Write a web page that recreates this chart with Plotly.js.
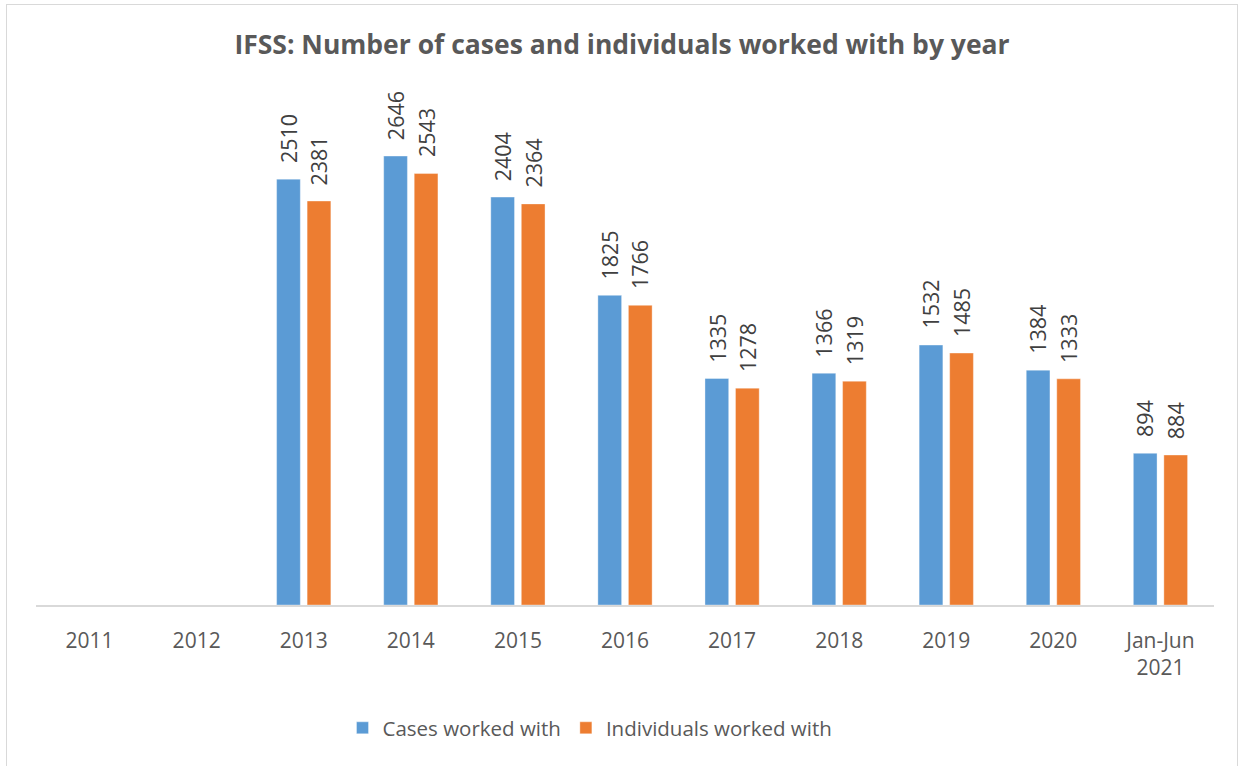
<!DOCTYPE html>
<html>
<head>
<meta charset="utf-8">
<script src="https://cdn.plot.ly/plotly-3.0.1.min.js"></script>
<style>
  html, body { margin: 0; padding: 0; background: #ffffff; overflow: hidden; }
  #frame { position: absolute; left: 6px; top: 4px; width: 1232px; height: 800px; border: 1.5px solid #d9d9d9; box-sizing: border-box; pointer-events: none; z-index: 5; }
  #chart { position: absolute; left: 0; top: 0; width: 1244px; height: 766px; }
</style>
</head>
<body>
<div id="chart"></div>
<div id="frame"></div>
<script>
const categories = ["2011", "2012", "2013", "2014", "2015", "2016", "2017", "2018", "2019", "2020", "Jan-Jun<br>2021"];
const casesWorkedWith = [null, null, 2510, 2646, 2404, 1825, 1335, 1366, 1532, 1384, 894];
const individualsWorkedWith = [null, null, 2381, 2543, 2364, 1766, 1278, 1319, 1485, 1333, 884];
const seriesNames = ["Cases worked with", "Individuals worked with"];

const colors = ["#5B9BD5", "#ED7D31"];
const seriesValues = [casesWorkedWith, individualsWorkedWith];

const traces = seriesValues.map((vals, i) => ({
  type: "bar",
  name: seriesNames[i],
  x: categories,
  y: vals,
  marker: { color: colors[i], line: { color: "rgba(255,255,255,0.6)", width: 0.6 } },
  hoverinfo: "x+y+name"
}));

const annotations = [];
const shifts = [-15.25, 15.25];
seriesValues.forEach((vals, i) => {
  vals.forEach((v, j) => {
    if (v === null) return;
    annotations.push({
      x: j, y: v, xref: "x", yref: "y",
      text: String(v), showarrow: false, textangle: -90,
      xanchor: "center", yanchor: "bottom",
      xshift: shifts[i], yshift: 14,
      font: { family: "Open Sans, sans-serif", size: 21.5, color: "#404040" }
    });
  });
});

const layout = {
  width: 1244, height: 766,
  margin: { l: 36, r: 30, t: 96, b: 161 },
  paper_bgcolor: "rgba(0,0,0,0)",
  plot_bgcolor: "rgba(0,0,0,0)",
  title: {
    text: "<b>IFSS: Number of cases and individuals worked with by year</b>",
    font: { family: "Open Sans, sans-serif", size: 26.5, color: "#595959" },
    x: 0.5, xanchor: "center", y: 1 - 45 / 766, yanchor: "middle"
  },
  barmode: "group",
  bargap: 0.43,
  bargroupgap: 0.223,
  xaxis: {
    type: "category",
    range: [-0.5, categories.length - 0.5],
    showline: true, linecolor: "#d9d9d9", linewidth: 1.5,
    ticks: "", showgrid: false, zeroline: false,
    tickfont: { family: "Open Sans, sans-serif", size: 21, color: "#595959" },
    ticklabelstandoff: 16
  },
  yaxis: {
    range: [0, 3000], showgrid: false, zeroline: false, showticklabels: false, showline: false, ticks: ""
  },
  legend: {
    orientation: "h", x: 0.5 - 35 / 1178, xanchor: "center", y: 1 - 728 / 766, yanchor: "middle", yref: "container",
    font: { family: "Open Sans, sans-serif", size: 20.5, color: "#595959" },
    itemclick: false, itemdoubleclick: false
  },
  annotations: annotations,
  showlegend: true
};

Plotly.newPlot("chart", traces, layout, { displayModeBar: false, staticPlot: true });
</script>
</body>
</html>
